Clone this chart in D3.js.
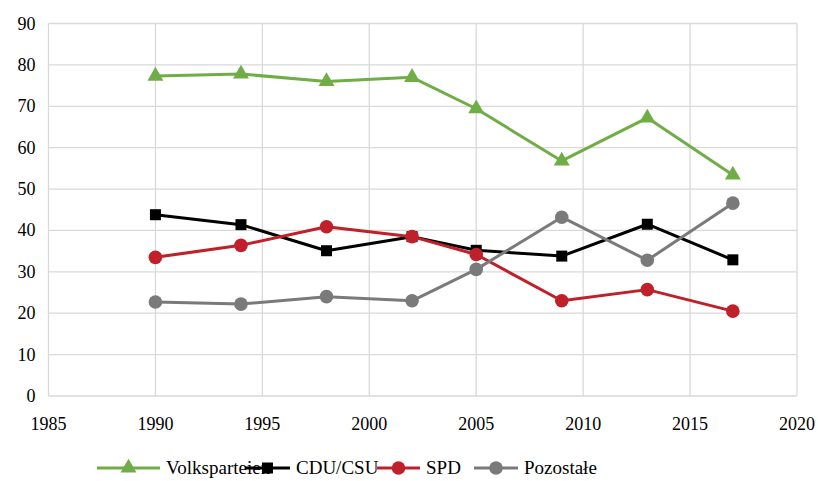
<!DOCTYPE html>
<html>
<head>
<meta charset="utf-8">
<script src="https://cdn.jsdelivr.net/npm/d3@7"></script>
<style>
  body { margin: 0; background: #fff; }
  svg text { font-family: "Liberation Serif" !important; }
</style>
</head>
<body>
<svg id="chart" width="818" height="481" font-family="Liberation Serif"></svg>
<script>
// election years and shares (%)
const years = [1990, 1994, 1998, 2002, 2005, 2009, 2013, 2017];
const volksparteien = [77.3, 77.8, 76.0, 77.0, 69.4, 56.8, 67.2, 53.4];
const cduCsu = [43.8, 41.4, 35.1, 38.5, 35.2, 33.8, 41.5, 32.9];
const spd = [33.5, 36.4, 40.9, 38.5, 34.2, 23.0, 25.7, 20.5];
const pozostale = [22.7, 22.2, 24.0, 23.0, 30.6, 43.2, 32.8, 46.6];
const seriesNames = ["Volksparteien", "CDU/CSU", "SPD", "Pozostałe"];
const xTicks = [1985, 1990, 1995, 2000, 2005, 2010, 2015, 2020];
const yTicks = [0, 10, 20, 30, 40, 50, 60, 70, 80, 90];

const FONT = "Liberation Serif";

const series = [
  { name: seriesNames[0], values: volksparteien, color: "#70AD47", marker: "triangle" },
  { name: seriesNames[1], values: cduCsu, color: "#000000", marker: "square" },
  { name: seriesNames[2], values: spd, color: "#C0202A", marker: "circle" },
  { name: seriesNames[3], values: pozostale, color: "#7A7A7A", marker: "circle" },
];

const M = { left: 48.5, right: 21, top: 23.5, bottom: 85 };
const W = 818, H = 481;
const svg = d3.select("#chart");

const x = d3.scaleLinear().domain([1985, 2020]).range([M.left, W - M.right]);
const y = d3.scaleLinear().domain([0, 90]).range([H - M.bottom, M.top]);

// put font on each text inline, important, so nothing else overrides it
function serif(sel, size) {
  sel.attr("font-size", size).attr("font-family", FONT)
    .style("font-family", FONT, "important")
    .style("font-size", size + "px");
  return sel;
}

// gridlines
const grid = svg.append("g");
grid.selectAll("line.h").data(yTicks).join("line")
  .attr("x1", x(1985)).attr("x2", x(2020))
  .attr("y1", (d) => y(d)).attr("y2", (d) => y(d))
  .attr("stroke", "#D9D9D9").attr("stroke-width", 1.3);
grid.selectAll("line.v").data(xTicks).join("line")
  .attr("y1", y(0)).attr("y2", y(90))
  .attr("x1", (d) => x(d)).attr("x2", (d) => x(d))
  .attr("stroke", "#D9D9D9").attr("stroke-width", 1.3);

// tick labels
svg.append("g").selectAll("text").data(yTicks).join("text")
  .attr("x", x(1985) - 13).attr("y", (d) => y(d) + 6)
  .attr("text-anchor", "end")
  .call(serif, 18)
  .text((d) => String(d));
svg.append("g").selectAll("text").data(xTicks).join("text")
  .attr("x", (d) => x(d)).attr("y", y(0) + 34)
  .attr("text-anchor", "middle")
  .call(serif, 18)
  .text((d) => String(d));

function drawMarker(sel, kind, color) {
  if (kind === "triangle") {
    sel.append("path").attr("d", d3.symbol(d3.symbolTriangle, 110)()).attr("fill", color);
  } else if (kind === "square") {
    sel.append("rect").attr("x", -5.5).attr("y", -5.5).attr("width", 11).attr("height", 11)
      .attr("fill", color);
  } else {
    sel.append("circle").attr("r", 6.8).attr("fill", color);
  }
}

const line = d3.line().x((d) => x(d[0])).y((d) => y(d[1]));

series.forEach((s) => {
  const pts = years.map((yr, i) => [yr, s.values[i]]);
  const g = svg.append("g");
  g.append("path").datum(pts).attr("d", line)
    .attr("fill", "none").attr("stroke", s.color).attr("stroke-width", 3)
    .attr("stroke-linejoin", "round");
  g.selectAll("g.m").data(pts).join("g")
    .attr("transform", (d) => `translate(${x(d[0])},${y(d[1])})`)
    .each(function () { drawMarker(d3.select(this), s.marker, s.color); });
});

// legend
const legendX = [97, 245, 377, 474];
const legendW = [63, 45, 43, 44];
const ly = 468;
series.forEach((s, i) => {
  const g = svg.append("g").attr("transform", `translate(${legendX[i]},${ly})`);
  g.append("line").attr("x1", 0).attr("x2", legendW[i]).attr("y1", 0).attr("y2", 0)
    .attr("stroke", s.color).attr("stroke-width", 3);
  drawMarker(g.append("g").attr("transform", `translate(${legendW[i] / 2},0)`), s.marker, s.color);
  g.append("text").attr("x", legendW[i] + 6).attr("y", 6)
    .call(serif, 19)
    .text(s.name);
});
</script>
</body>
</html>
